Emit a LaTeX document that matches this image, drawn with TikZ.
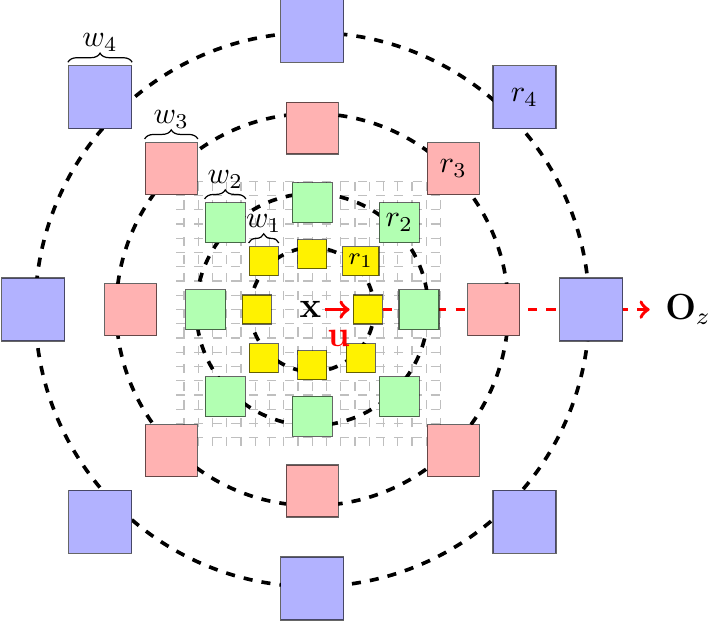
\documentclass[tikz,border=0pt]{standalone}
\usepackage{tikz}
\usetikzlibrary{decorations.pathreplacing}

\pgfdeclarelayer{background}
\pgfsetlayers{background,main}

\begin{document}
\begin{tikzpicture}[>=to,
  sq/.style={draw=black, draw opacity=0.6, thin, inner sep=2pt, minimum size=#1},
  ring/.style={black, very thick, dashed},
  wbrace/.style={decorate, decoration={brace, amplitude=3pt, raise=1pt}}]
  \useasboundingbox (-3.622,-3.601) rectangle (4.637,3.591);
  % Squares: the ones on the axes sit on (k*45:\ax), the diagonal ones further out
  \foreach \c/\s/\ax/\dg/\f [count=\i] in {yellow/0.336/0.644/0.796/\footnotesize,
      green!30/0.464/1.238/1.427/\normalsize, red!30/0.603/2.105/2.313/\normalsize,
      blue!30/0.731/3.236/3.481/\normalsize} {
    \foreach \k in {0,2,4,6}
      \node[sq=\s cm, fill=\c] (s\i-\k) at (\k*45:\ax) {};
    \foreach \k in {3,5,7}
      \node[sq=\s cm, fill=\c] (s\i-\k) at (\k*45:\dg) {};
    \node[sq=\s cm, fill=\c, font=\f] (s\i-1) at (45:\dg) {$r_\i$};
    % Width brace on the upper left square
    \draw[wbrace] (s\i-3.north west) -- (s\i-3.north east)
      node[midway, above=1pt] {$w_\i$};
  }
  % Point and direction
  \node[inner sep=1pt, font=\large] (x) at (-0.02,0) {$\mathbf{x}$};
  \draw[red, very thick, ->, shorten >=1pt] (x) -- (s1-0)
    node[midway, below=3pt, font=\large] {$\mathbf{u}$};
  \node[right, inner sep=2pt, font=\large] (oz) at (4.02,0) {$\mathbf{O}_z$};
  \begin{pgfonlayer}{background}
    % Grid
    \draw[gray!50, thin, dashed, step=0.1653] (-1.578,-1.578) grid (1.578,1.578);
    % Rings
    \foreach \r in {0.719,1.346,2.274,3.213}
      \draw[ring] (0,0) circle (\r);
    \draw[red, very thick, dashed, ->, shorten >=3pt] (s1-0) -- (oz);
  \end{pgfonlayer}
\end{tikzpicture}
\end{document}
